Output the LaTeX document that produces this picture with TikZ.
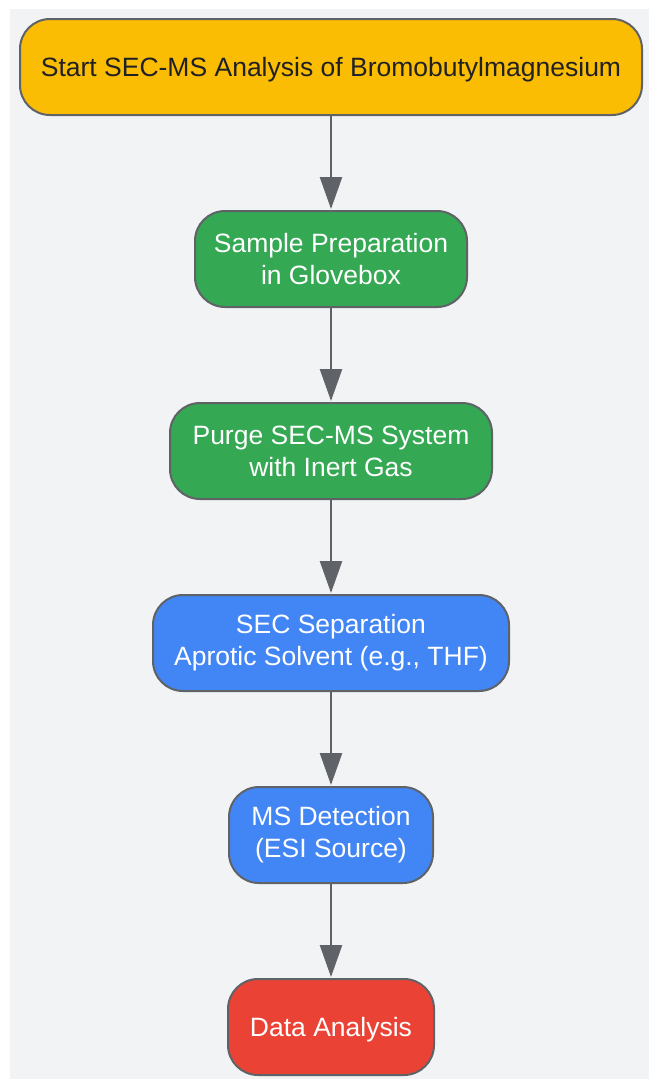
\documentclass[tikz,border=0pt]{standalone}
\usepackage{fontspec}
\setmainfont{Liberation Sans}
\usetikzlibrary{arrows.meta}
\definecolor{bgc}{HTML}{F1F3F4}
\definecolor{edgec}{HTML}{5F6368}
\definecolor{yel}{HTML}{FBBC04}
\definecolor{grn}{HTML}{34A853}
\definecolor{blu}{HTML}{4285F4}
\definecolor{rd}{HTML}{EA4335}
\definecolor{dark}{HTML}{202124}
\tikzset{
  box/.style={draw=edgec, line width=2pt, rounded corners=30pt, minimum height=96pt,
    inner sep=0pt, align=center, font=\fontsize{26.5pt}{32pt}\selectfont, text=white,
    execute at begin node={\rule{0pt}{25pt}}},
  conn/.style={draw=edgec, line width=2.5pt, -{Triangle[length=32pt,width=22pt]}, shorten >=1pt}
}
\begin{document}
\begin{tikzpicture}[x=1pt,y=1pt]
\useasboundingbox (0,0) rectangle (649,-1079);
\fill[bgc] (10,-9) rectangle (649,-1079);
\node[box, fill=yel, text=dark, minimum width=622pt] (start) at (331,-67) {Start SEC-MS Analysis of Bromobutylmagnesium};
\node[box, fill=grn, minimum width=272pt] (prep) at (331,-259) {Sample Preparation\\in Glovebox};
\node[box, fill=grn, minimum width=322pt] (purge) at (331,-451) {Purge SEC-MS System\\with Inert Gas};
\node[box, fill=blu, minimum width=356pt] (sec) at (331,-643) {SEC Separation\\Aprotic Solvent (e.g., THF)};
\node[box, fill=blu, minimum width=204pt] (ms) at (331,-835) {MS Detection\\(ESI Source)};
\node[box, fill=rd, minimum width=206pt] (data) at (331,-1027) {Data Analysis};
\draw[conn] (start) -- (prep);
\draw[conn] (prep) -- (purge);
\draw[conn] (purge) -- (sec);
\draw[conn] (sec) -- (ms);
\draw[conn] (ms) -- (data);
\end{tikzpicture}
\end{document}
